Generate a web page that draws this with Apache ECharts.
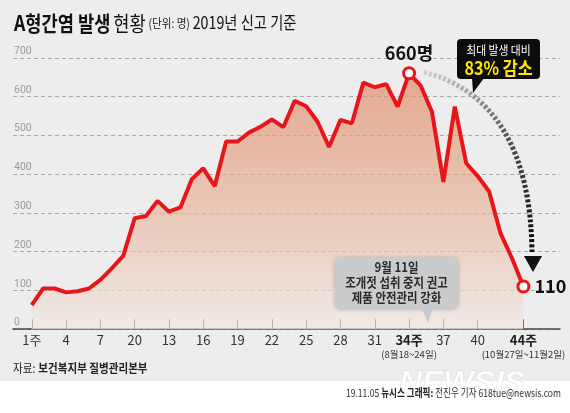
<!DOCTYPE html>
<html>
<head>
<meta charset="utf-8">
<script src="https://cdn.jsdelivr.net/npm/echarts@6/dist/echarts.min.js"></script>
<style>
html,body{margin:0;padding:0;background:#fff}
#chart{width:570px;height:413px;background:linear-gradient(#ededed 0,#ededed 381px,#ffffff 381px)}
</style>
</head>
<body>
<div id="chart"></div>
<script>
// 주차별 A형간염 신고 건수 (2019)
var weeks = [1,2,3,4,5,6,7,8,9,10,11,12,13,14,15,16,17,18,19,20,21,22,
             23,24,25,26,27,28,29,30,31,32,33,34,35,36,37,38,39,40,41,42,43,44];
var cases = [62,105,105,95,98,105,127,157,189,286,292,331,303,314,387,415,369,484,484,507,522,541,
             521,589,575,535,470,540,531,636,624,632,574,660,629,561,380,574,428,395,355,247,183,110];

var tickWeeks  = [1,4,7,10,13,16,19,22,25,28,31,34,37,40,44];
var tickLabels = ['1주','4','7','20','13','16','19','22','25','28','31','34주','37','40','44주'];
var boldWeeks  = [34, 44];
var noteWeeks  = [34, 44];
var noteLabels = ['(8월18~24일)', '(10월27일~11월2일)'];

var peakWeek = 34, lastWeek = 44;

var FONT = '"Noto Sans CJK KR", "Noto Sans", sans-serif';
var RED = '#e8161b';

var seriesData = weeks.map(function (w, i) {
    var item = {value: [w, cases[i]]};
    if (w === peakWeek) {
        item.symbol = 'circle';
        item.symbolSize = 11;
        item.label = {
            show: true, position: 'top', distance: 4,
            formatter: function (p) { return p.value[1] + '명'; },
            fontFamily: FONT, fontSize: 18, fontWeight: 'bold', color: '#111'
        };
    }
    if (w === lastWeek) {
        item.symbol = 'circle';
        item.symbolSize = 11;
        item.label = {
            show: true, position: 'right', distance: 4,
            formatter: function (p) { return p.value[1]; },
            fontFamily: FONT, fontSize: 18, fontWeight: 'bold', color: '#111'
        };
    }
    return item;
});

var xMin = -0.64, xMax = 47.2;

var myChart = echarts.init(document.getElementById('chart'));
var option = {
    backgroundColor: 'transparent',
    animation: false,
    grid: {left: 13, right: 10, top: 57.8, bottom: 83.8},
    xAxis: [{
        type: 'value',
        min: xMin,
        max: xMax,
        splitLine: {show: false},
        axisLine: {show: true, lineStyle: {color: '#444', width: 1.5}},
        axisTick: {
            show: true, inside: true, length: 10,
            customValues: tickWeeks,
            lineStyle: {color: '#444', width: 1}
        },
        axisLabel: {
            customValues: tickWeeks,
            hideOverlap: false,
            margin: 4,
            fontFamily: FONT, fontSize: 13, color: '#333',
            formatter: function (v) {
                var i = tickWeeks.indexOf(v);
                var t = i < 0 ? '' : tickLabels[i];
                return boldWeeks.indexOf(v) >= 0 ? '{b|' + t + '}' : t;
            },
            rich: {
                b: {fontFamily: FONT, fontSize: 13, fontWeight: 'bold', color: '#222'}
            }
        }
    }, {
        // 주차 날짜 메모
        type: 'value',
        position: 'bottom',
        min: xMin,
        max: xMax,
        splitLine: {show: false},
        axisLine: {show: false},
        axisTick: {show: false},
        axisLabel: {
            customValues: noteWeeks,
            margin: 20,
            fontFamily: FONT, fontSize: 9.5, color: '#333',
            formatter: function (v) {
                var i = noteWeeks.indexOf(v);
                return i < 0 ? '' : noteLabels[i];
            }
        }
    }],
    yAxis: {
        type: 'value',
        min: 0,
        max: 700,
        interval: 100,
        axisLine: {show: false},
        axisTick: {show: false},
        axisLabel: {
            inside: true, margin: 1, verticalAlign: 'bottom', padding: [0, 0, 1, 0],
            fontFamily: 'Roboto, sans-serif', fontSize: 10.5, color: '#9a9a9a'
        },
        splitLine: {lineStyle: {color: '#a8a8a8', type: [4, 3], width: 1}}
    },
    series: [{
        type: 'line',
        data: seriesData,
        symbol: 'none',
        lineStyle: {color: RED, width: 4},
        itemStyle: {color: '#fff', borderColor: RED, borderWidth: 3},
        areaStyle: {
            color: {
                type: 'linear', x: 0, y: 0, x2: 0, y2: 1,
                colorStops: [
                    {offset: 0, color: '#de8a68'},
                    {offset: 0.55, color: '#e8b7a0'},
                    {offset: 1, color: '#efe7e3'}
                ]
            }
        },
        z: 3
    }],
    graphic: [
        // 제목
        {
            type: 'text', x: 14, y: 23, scaleX: 0.84,
            style: {
                text: '{a|A형간염 발생} {b|현황} {c|(단위: 명)} {d|2019년 신고 기준}',
                verticalAlign: 'middle',
                rich: {
                    a: {fontFamily: FONT, fontSize: 21, fontWeight: 'bold', fill: '#111'},
                    b: {fontFamily: FONT, fontSize: 21, fill: '#111'},
                    c: {fontFamily: FONT, fontSize: 12.5, fill: '#222'},
                    d: {fontFamily: FONT, fontSize: 17, fill: '#111'}
                }
            }
        },
        // 점선 화살표
        {
            type: 'bezierCurve',
            shape: {x1: 424, y1: 72, cpx1: 530, cpy1: 100, x2: 532, y2: 252},
            style: {
                fill: null, lineWidth: 5, lineDash: [3, 2],
                stroke: {
                    type: 'linear', x: 0, y: 0, x2: 0.5, y2: 1,
                    colorStops: [{offset: 0, color: '#d4d4d4'}, {offset: 0.45, color: '#555'}, {offset: 1, color: '#111'}]
                }
            },
            z: 5
        },
        {
            type: 'polygon',
            shape: {points: [[524, 256], [542, 256], [533, 272]]},
            style: {fill: '#111'},
            z: 5
        },
        // 최대 발생 대비 박스
        {
            type: 'rect',
            shape: {x: 457, y: 39, width: 83, height: 40, r: 4},
            style: {fill: '#0c0c0c'},
            z: 6
        },
        {
            type: 'polygon',
            shape: {points: [[472, 78], [484, 78], [473, 93]]},
            style: {fill: '#0c0c0c'},
            z: 6
        },
        {
            type: 'text', x: 498.5, y: 50, scaleX: 0.9,
            style: {text: '최대 발생 대비', align: 'center', verticalAlign: 'middle',
                    fontFamily: FONT, fontSize: 12, fill: '#fff'},
            z: 7
        },
        {
            type: 'text', x: 498.5, y: 68.5, scaleX: 0.9,
            style: {text: '83% 감소', align: 'center', verticalAlign: 'middle',
                    fontFamily: FONT, fontSize: 18, fontWeight: 'bold', fill: '#ffe600'},
            z: 7
        },
        // 9월 11일 안내 박스
        {
            type: 'rect',
            shape: {x: 335, y: 257, width: 123, height: 51, r: 5},
            style: {fill: '#c9cbcc', shadowBlur: 4, shadowColor: 'rgba(0,0,0,0.25)', shadowOffsetY: 1},
            z: 6
        },
        {
            type: 'polygon',
            shape: {points: [[421, 307], [433, 307], [428, 323]]},
            style: {fill: '#c9cbcc'},
            z: 6
        },
        {
            type: 'text', x: 396.5, y: 282, scaleX: 0.88,
            style: {text: '9월 11일\n조개젓 섭취 중지 권고\n제품 안전관리 강화',
                    align: 'center', verticalAlign: 'middle', lineHeight: 15,
                    fontFamily: FONT, fontSize: 13, fontWeight: 'bold', fill: '#2a2a2a'},
            z: 7
        },
        // 자료 출처
        {
            type: 'text', x: 13, y: 368, scaleX: 0.88,
            style: {
                text: '{r|자료:} {k|보건복지부 질병관리본부}',
                verticalAlign: 'middle',
                rich: {
                    r: {fontFamily: FONT, fontSize: 12, fill: '#222'},
                    k: {fontFamily: FONT, fontSize: 12, fontWeight: 'bold', fill: '#222'}
                }
            }
        },
        // 워터마크
        {
            type: 'text', x: 462, y: 384,
            style: {text: 'NEWSIS', align: 'center', verticalAlign: 'middle',
                    font: 'italic bold 32px "Liberation Sans", sans-serif',
                    fill: 'rgba(255,255,255,0.85)', stroke: 'rgba(190,190,190,0.45)', lineWidth: 1}
        },
        // 하단 크레딧
        {
            type: 'text', x: 561, y: 393, scaleX: 0.78,
            style: {
                text: '{r|19.11.05 }{k|뉴시스 그래픽:}{r| 전진우 기자 618tue@newsis.com}',
                align: 'right', verticalAlign: 'middle',
                rich: {
                    r: {fontFamily: FONT, fontSize: 11, fill: '#333'},
                    k: {fontFamily: FONT, fontSize: 11, fontWeight: 'bold', fill: '#222'}
                }
            }
        }
    ]
};
myChart.setOption(option);
</script>
</body>
</html>
